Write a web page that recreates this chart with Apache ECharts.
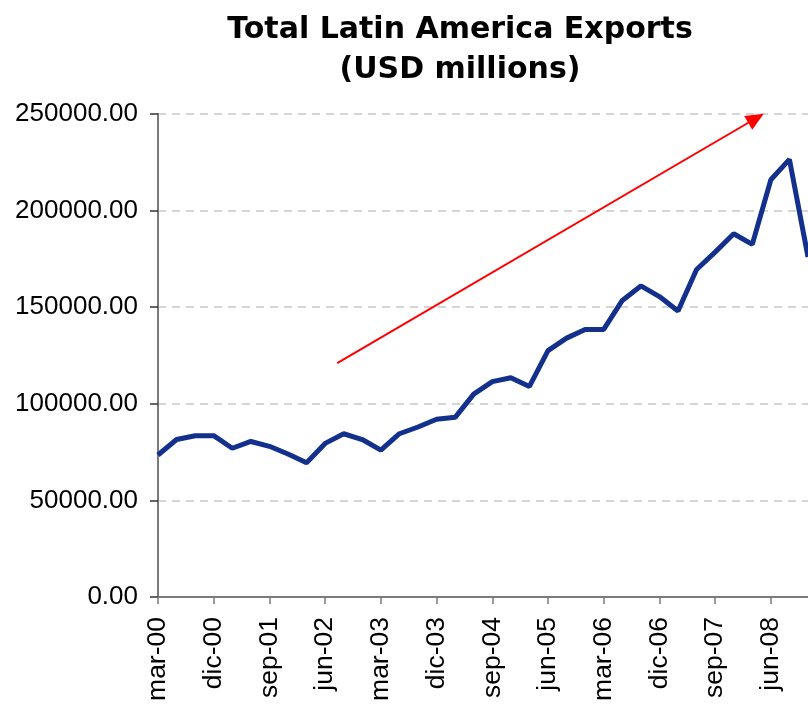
<!DOCTYPE html>
<html>
<head>
<meta charset="utf-8">
<script src="https://cdn.jsdelivr.net/npm/echarts@6/dist/echarts.min.js"></script>
<style>
html,body{margin:0;padding:0;background:#fff;}
#chart{width:808px;height:704px;}
</style>
</head>
<body>
<div id="chart"></div>
<script>
var categories = [
  'mar-00','jun-00','sep-00','dic-00',
  'mar-01','jun-01','sep-01','dic-01',
  'mar-02','jun-02','sep-02','dic-02',
  'mar-03','jun-03','sep-03','dic-03',
  'mar-04','jun-04','sep-04','dic-04',
  'mar-05','jun-05','sep-05','dic-05',
  'mar-06','jun-06','sep-06','dic-06',
  'mar-07','jun-07','sep-07','dic-07',
  'mar-08','jun-08','sep-08','dic-08'
];
var exportsValues = [
  73500, 81500, 83500, 83500,
  77000, 80500, 78000, 74000,
  69500, 79500, 84500, 81500,
  76000, 84500, 88000, 92000,
  93000, 105000, 111500, 113500,
  109000, 127500, 134000, 138500,
  138500, 153500, 161000, 155500,
  148000, 169500, 178500, 188000,
  182500, 216000, 226500, 176000
];
var yTicks = [0, 50000, 100000, 150000, 200000, 250000];
// trend arrow annotation in data units: [quarter index, value]
var arrowStart = [9.65, 121000];
var arrowEnd = [32.2, 247800];

var chart = echarts.init(document.getElementById('chart'), null, {renderer:'canvas'});
var labelFont = 'Liberation Sans';
var option = {
  animation: false,
  backgroundColor: '#ffffff',
  title: {
    text: 'Total Latin America Exports\n(USD millions)',
    left: 455,
    top: 5,
    textAlign: 'center',
    textStyle: {
      fontFamily: 'DejaVu Sans',
      fontWeight: 'bold',
      fontSize: 30,
      lineHeight: 40,
      color: '#000'
    }
  },
  grid: {left: 158, right: -2, top: 114, bottom: 107, containLabel: false},
  xAxis: [{
    type: 'category',
    data: categories,
    boundaryGap: false,
    axisLine: {lineStyle: {color: '#7a7a7a', width: 2}},
    axisTick: {show: true, interval: 2, length: 7, lineStyle: {color: '#7a7a7a', width: 1.5}},
    axisLabel: {interval: 2, rotate: 90, margin: 20, fontSize: 26.5, fontFamily: labelFont, color: '#000'},
    splitLine: {show: false}
  }, {
    type: 'value',
    min: 0,
    max: categories.length - 1,
    show: false
  }],
  yAxis: {
    type: 'value',
    min: yTicks[0],
    max: yTicks[yTicks.length - 1],
    interval: yTicks[1] - yTicks[0],
    axisLine: {show: true, lineStyle: {color: '#7a7a7a', width: 2}},
    axisTick: {show: true, length: 8, lineStyle: {color: '#333', width: 1.5}},
    axisLabel: {margin: 20, fontSize: 26, fontFamily: labelFont, color: '#000',
      formatter: function (v) { return v.toFixed(2); }},
    splitLine: {show: true, lineStyle: {color: '#c8c8c8', type: [8, 6], width: 1.5}}
  },
  series: [{
    name: 'Exports',
    type: 'line',
    data: exportsValues,
    showSymbol: false,
    symbol: 'none',
    lineStyle: {color: '#12308c', width: 5},
    itemStyle: {color: '#12308c'},
    z: 3
  }, {
    name: 'trend',
    type: 'line',
    xAxisIndex: 1,
    data: [],
    markLine: {
      silent: true,
      symbol: ['none', 'triangle'],
      symbolSize: [16, 18],
      label: {show: false},
      lineStyle: {color: '#ff0000', width: 2, type: 'solid'},
      data: [[{coord: arrowStart}, {coord: arrowEnd}]]
    },
    z: 4
  }]
};
chart.setOption(option);
</script>
</body>
</html>
